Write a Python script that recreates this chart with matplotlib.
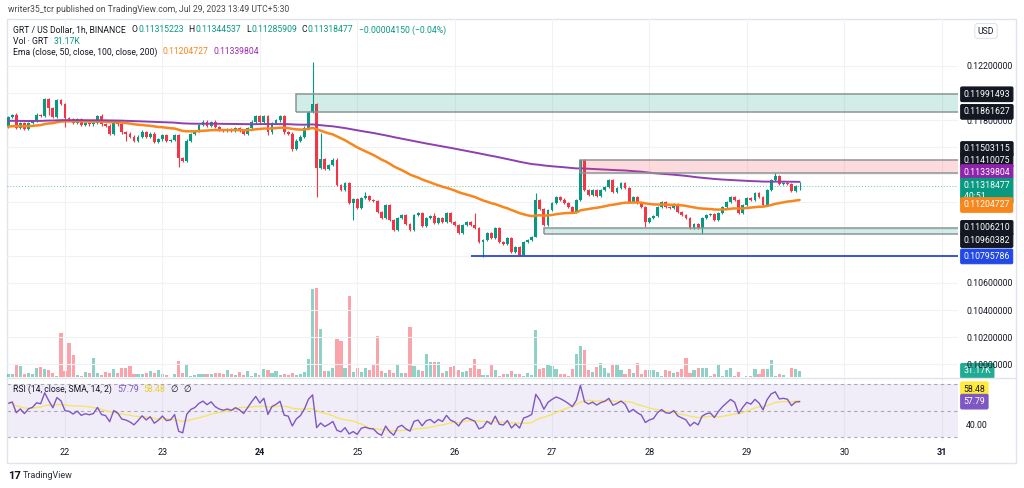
import numpy as np
import pandas as pd
import matplotlib
matplotlib.use("Agg")
import matplotlib.pyplot as plt
import matplotlib.dates as mdates
import matplotlib.transforms as mtransforms
from matplotlib.patches import Rectangle
from matplotlib.lines import Line2D
from matplotlib.ticker import FormatStrFormatter, FixedLocator

plt.rcParams['font.family'] = ['Roboto', 'DejaVu Sans']

# ------------------------------------------------------------------ data
start_time = "2023-07-21 10:00"
first_open = 0.11752
closes = [
    # Jul 21 10:00-23:00
    .11824, .11839, .11744, .11780, .11735, .11780, .11795, .11839, .11832, .11954, .11890, .11826, .11950, .11920,
    # Jul 22
    .11817, .11810, .11780, .11810, .11765, .11780, .11770, .11780, .11833, .11770, .11760, .11700,
    .11795, .11770, .11710, .11700, .11680, .11650, .11680, .11715, .11677, .11700, .11640, .11660,
    # Jul 23
    .11690, .11650, .11655, .11690, .11520, .11500, .11650, .11700, .11720, .11765, .11790, .11760,
    .11790, .11750, .11730, .11720, .11730, .11720, .11740, .11725, .11700, .11740, .11785, .11830,
    # Jul 24
    .11790, .11830, .11710, .11780, .11800, .11830, .11710, .11700, .11590, .11650, .11680, .11745,
    .11860, .11920, .11450, .11514, .11440, .11470, .11507, .11322, .11285, .11337, .11190, .11219,
    # Jul 25
    .11153, .11227, .11241, .11212, .11205, .11123, .11079, .11175, .11064, .10990, .11079, .11101,
    .11035, .10990, .11101, .11116, .11020, .11079, .11094, .11042, .11079, .11050, .11116, .11050,
    # Jul 26
    .11027, .10968, .11027, .11050, .11027, .11005, .10902, .10917, .10968, .10931, .11005, .10902,
    .10890, .10931, .10828, .10865, .10806, .10902, .10917, .10939, .11212, .11145, .11027, .11138,
    # Jul 27
    .11190, .11234, .11215, .11190, .11160, .11123, .11212, .11507, .11285, .11249, .11285, .11241,
    .11285, .11308, .11359, .11271, .11300, .11337, .11300, .11197, .11234, .11190, .11160, .11050,
    # Jul 28
    .11079, .11094, .11160, .11197, .11160, .11153, .11182, .11123, .11101, .11079, .11005, .11035,
    .11005, .11079, .11101, .11108, .11064, .11116, .11160, .11197, .11234, .11212, .11116, .11175,
    # Jul 29 00:00-13:00
    .11227, .11212, .11263, .11234, .11175, .11285, .11359, .11389, .11330, .11337, .11330, .11278,
    .11315223, .11318477,
]
# wick lengths beyond the body, in units of 1e-5
upper_wick = [
    10, 8, 12, 10, 8, 10, 10, 12, 10, 10, 10, 8, 10, 10,
    8, 10, 10, 8, 10, 8, 10, 10, 8, 10, 8, 10, 10, 8, 10, 8, 10, 12, 10, 10, 8, 10, 10, 8,
    10, 8, 10, 10, 10, 10, 10, 8, 10, 8, 10, 10, 8, 10, 10, 8, 10, 10, 8, 10, 10, 10, 15, 10,
    10, 12, 10, 8, 10, 10, 10, 8, 10, 8, 10, 10, 10, 310, 10, 190, 10, 10, 12, 15, 10, 10, 10, 10,
    10, 10, 30, 10, 10, 10, 10, 10, 10, 10, 10, 10, 10, 10, 10, 10, 10, 10, 10, 20, 10, 10, 10, 10,
    10, 10, 10, 10, 10, 89, 10, 10, 10, 10, 10, 10, 10, 10, 10, 10, 10, 10, 10, 10, 50, 10, 10, 10,
    10, 10, 10, 10, 10, 10, 10, 3, 10, 10, 10, 10, 10, 10, 10, 10, 10, 10, 10, 10, 10, 10, 10, 10,
    10, 10, 10, 10, 10, 10, 10, 10, 10, 10, 10, 10, 10, 10, 10, 10, 10, 10, 10, 10, 10, 10, 10, 10,
    10, 10, 10, 10, 10, 10, 10, 21, 10, 8, 10, 10, 10, 26,
]
lower_wick = [
    10, 10, 10, 10, 10, 10, 10, 10, 10, 10, 50, 10, 10, 10,
    67, 10, 10, 10, 10, 10, 10, 10, 10, 10, 10, 10, 10, 10, 10, 50, 10, 10, 10, 10, 10, 10, 10, 10,
    10, 10, 10, 10, 65, 10, 10, 10, 10, 10, 10, 10, 10, 10, 10, 10, 10, 10, 10, 10, 10, 10, 10, 10,
    10, 10, 20, 10, 10, 10, 10, 10, 15, 10, 10, 10, 10, 10, 215, 10, 10, 10, 10, 10, 10, 10, 10, 126,
    10, 10, 10, 10, 10, 10, 10, 10, 10, 10, 10, 10, 10, 10, 10, 10, 10, 10, 10, 10, 10, 10, 10, 10,
    10, 10, 10, 10, 10, 10, 10, 112, 10, 10, 10, 10, 10, 10, 10, 10, 10, 10, 10, 10, 0, 10, 10, 10,
    10, 10, 10, 10, 10, 10, 10, 10, 10, 10, 10, 10, 10, 10, 10, 10, 10, 10, 10, 10, 10, 10, 10, 37,
    10, 10, 10, 10, 10, 10, 10, 10, 10, 10, 10, 10, 10, 45, 10, 10, 10, 10, 10, 10, 10, 10, 10, 10,
    10, 10, 10, 10, 10, 10, 10, 10, 10, 10, 10, 10, 10, 29,
]
volumes_k = [
    17, 13, 63, 53, 13, 22, 13, 47, 50, 38, 37, 22, 5, 220,
    28, 170, 108, 12, 5, 23, 20, 95, 20, 10, 25, 20, 38, 20, 47, 45, 53, 17, 17, 17, 20, 28, 22, 37,
    17, 8, 2, 13, 78, 22, 63, 3, 8, 17, 17, 13, 17, 22, 22, 13, 33, 17, 10, 23, 8, 28, 7, 20,
    8, 38, 33, 20, 28, 8, 17, 8, 22, 8, 13, 25, 88, 442, 447, 238, 28, 28, 47, 188, 180, 47, 403, 25,
    47, 25, 47, 33, 67, 203, 30, 20, 33, 20, 63, 20, 20, 250, 53, 37, 30, 113, 73, 75, 73, 22, 30, 50,
    53, 37, 23, 30, 43, 92, 42, 10, 10, 62, 33, 5, 15, 17, 30, 13, 13, 5, 18, 8, 233, 38, 47, 63,
    53, 38, 17, 17, 3, 38, 113, 157, 137, 33, 25, 52, 72, 47, 20, 67, 67, 33, 13, 42, 20, 70, 13, 33,
    33, 37, 25, 3, 37, 30, 22, 25, 42, 95, 20, 33, 43, 43, 43, 3, 17, 58, 3, 33, 47, 3, 27, 2,
    3, 7, 42, 17, 38, 38, 87, 3, 17, 8, 2, 47, 42, 31.17,
]
ema50_start = 0.11750
ema200_start = 0.11795
rsi_seed_gain = 0.00022
rsi_seed_loss = 0.00022

zone_starts = ["2023-07-24 09:00", "2023-07-27 07:00", "2023-07-26 22:00"]
zone_tops = [0.11991493, 0.11503115, 0.11006210]
zone_bottoms = [0.11861627, 0.11410075, 0.10960382]
zone_kinds = ["green", "red", "green"]
support_start = "2023-07-26 04:00"
support_level = 0.10795786

first_day = "2023-07-22"
day_labels = ["22", "23", "24", "25", "26", "27", "28", "29", "30", "31"]
bold_days = ["24", "31"]
grid_prices = [0.100, 0.102, 0.104, 0.106, 0.108, 0.110, 0.112, 0.114, 0.116, 0.118, 0.120, 0.122]
labeled_prices = [0.100, 0.102, 0.104, 0.106, 0.118, 0.122]   # the others sit under price tags

header_text = "writer35_tcr published on TradingView.com, Jul 29, 2023 13:49 UTC+5:30"
ohlc_text = ["0.11315223", "0.11344537", "0.11285909", "0.11318477"]
change_text = "\u22120.00004150 (\u22120.04%)"
vol_text = "31.17K"
ema_vals = ["0.11204727", "0.11339804"]
rsi_vals = ["57.79", "58.48"]
countdown = "40:51"

# ------------------------------------------------------------------ colors
UP, DN = "#089981", "#f23645"
TXT = "#131722"
GRID = "#f0f2f6"
ORANGE, PURPLE = "#f7861d", "#8e3fb0"

# ------------------------------------------------------------------ derived series
times = pd.date_range(start_time, periods=len(closes), freq="h")
xs = mdates.date2num(times.to_pydatetime())
c = np.array(closes)
o = np.r_[first_open, c[:-1]]
hi = np.maximum(o, c) + np.array(upper_wick) * 1e-5
lo = np.minimum(o, c) - np.array(lower_wick) * 1e-5
up = c >= o
vol = np.array(volumes_k, dtype=float)

def ema(values, span, seed):
    a = 2.0 / (span + 1)
    out, e = [], seed
    for v in values:
        e = a * v + (1 - a) * e
        out.append(e)
    return np.array(out)

ema50 = ema(c, 50, ema50_start)
ema200 = ema(c, 200, ema200_start)

ag, al, prev = rsi_seed_gain, rsi_seed_loss, first_open
rsi = []
for v in c:
    d = v - prev
    ag = (ag * 13 + max(d, 0)) / 14
    al = (al * 13 + max(-d, 0)) / 14
    rsi.append(100 - 100 / (1 + ag / al))
    prev = v
rsi = np.array(rsi)
rsi_ma = pd.Series(rsi).rolling(14, min_periods=1).mean().values

# ------------------------------------------------------------------ figure
W, H = 1024, 488
fig = plt.figure(figsize=(W / 100, H / 100), dpi=100)
fig.patch.set_facecolor("white")

def box(l, t, r, b):
    return [l / W, 1 - b / H, (r - l) / W, (b - t) / H]

ax = fig.add_axes(box(7, 19, 958, 377))
axv = ax.twinx()
axr = fig.add_axes(box(7, 378, 958, 442))
ax.set_zorder(2)
axv.set_zorder(1)
ax.patch.set_visible(False)

d0 = mdates.date2num(pd.Timestamp(first_day).to_pydatetime())
xlim = (d0 - 0.5955, d0 + 9.168)
day_x = [d0 + k for k in range(len(day_labels))]

for a in (ax, axv, axr):
    a.set_xlim(*xlim)
    for s in a.spines.values():
        s.set_visible(False)

# price pane
ax.set_ylim(0.099065, 0.125466)
ax.yaxis.tick_right()
ax.yaxis.set_major_locator(FixedLocator(labeled_prices))
ax.yaxis.set_minor_locator(FixedLocator(grid_prices))
ax.yaxis.set_major_formatter(FormatStrFormatter("%.8f"))
ax.tick_params(axis="y", which="both", length=0, pad=5.8, labelsize=6.3, labelcolor=TXT)
ax.set_xticks(day_x)
ax.tick_params(axis="x", length=0, labelbottom=False)
ax.grid(True, which="both", color=GRID, lw=0.8)
ax.set_axisbelow(True)

# volume (overlay)
axv.set_ylim(0, 1790)
axv.set_yticks([])
axv.bar(xs, vol, width=0.78 / 24, color=np.where(up, UP, DN), alpha=0.45, linewidth=0)

# candles
cols = np.where(up, UP, DN)
ax.vlines(xs, lo, hi, colors=cols, lw=0.8, zorder=3)
ax.bar(xs, np.maximum(np.abs(c - o), 0.000012), bottom=np.minimum(o, c), width=0.7 / 24,
       color=cols, linewidth=0, zorder=4)

# EMAs
ax.plot(xs, ema50, color=ORANGE, lw=1.8, zorder=5, solid_capstyle="round")
ax.plot(xs, ema200, color=PURPLE, lw=1.4, zorder=5, solid_capstyle="round")

# current price dotted line
ax.axhline(c[-1], color=UP, lw=0.7, ls=(0, (1, 2)), alpha=0.6, zorder=2)

# zones
for zs, zt, zb, zk in zip(zone_starts, zone_tops, zone_bottoms, zone_kinds):
    x0 = mdates.date2num(pd.Timestamp(zs).to_pydatetime())
    fc = UP if zk == "green" else DN
    ax.add_patch(Rectangle((x0, zb), xlim[1] - x0 + 1, zt - zb, facecolor=fc, alpha=0.18,
                           edgecolor="none", zorder=6))
    ax.add_patch(Rectangle((x0, zb), xlim[1] - x0 + 1, zt - zb, fill=False,
                           edgecolor="#8b9694", lw=1.1, zorder=6))

# support line
sx = mdates.date2num(pd.Timestamp(support_start).to_pydatetime())
ax.hlines(support_level, sx, xlim[1], color="#2f45d8", lw=1.3, zorder=6)

# RSI pane
axr.set_ylim(26.45, 74.75)
axr.axhspan(30, 70, color="#7e57c2", alpha=0.1, lw=0)
for lvl in (70, 50, 30):
    axr.axhline(lvl, color="#9598a1", lw=0.8, ls=(0, (3, 3)), alpha=0.8)
axr.plot(xs, rsi_ma, color="#f6e36a", lw=1.0, zorder=3)
axr.plot(xs, rsi, color="#7e57c2", lw=1.0, zorder=4)
axr.yaxis.tick_right()
axr.set_yticks([40])
axr.yaxis.set_major_formatter(FormatStrFormatter("%.2f"))
axr.tick_params(axis="y", length=0, pad=5.8, labelsize=6.3, labelcolor=TXT)
axr.set_xticks(day_x)
axr.set_xticklabels(day_labels)
axr.tick_params(axis="x", length=0, pad=4.5, labelsize=6.5, labelcolor=TXT)
for t in axr.get_xticklabels():
    if t.get_text() in bold_days:
        t.set_fontweight("bold")
axr.grid(True, axis="x", color=GRID, lw=0.8)
axr.set_axisbelow(True)

# ------------------------------------------------------------------ tags on the right axis
def tag(axis, yval, txt, fc, tc="white", dy=0.0, size=6.3, ec=None, pad=0.32):
    tr = mtransforms.blended_transform_factory(axis.transAxes, axis.transData)
    axis.annotate(txt, xy=(1, yval), xycoords=tr, xytext=(5.5, dy), textcoords="offset pixels",
                  ha="left", va="center", fontsize=size, color=tc, annotation_clip=False,
                  linespacing=1.25, zorder=20,
                  bbox=dict(boxstyle=f"round,pad={pad},rounding_size=0.15", fc=fc, ec=ec or fc, lw=0.8))

tag(ax, zone_tops[0], f"{zone_tops[0]:.8f}", "#131722")
tag(ax, zone_bottoms[0], f"{zone_bottoms[0]:.8f}", "#131722")
tag(ax, zone_tops[1], f"{zone_tops[1]:.8f}", "#131722", dy=11.5)
tag(ax, zone_bottoms[1], f"{zone_bottoms[1]:.8f}", "#131722", dy=13)
tag(ax, ema200[-1], ema_vals[1], "#8e24aa", dy=(ema200[-1] - 0.11339804) / 0.001 * 13.56 + 9)
tag(ax, c[-1], ohlc_text[3] + "\n" + countdown + "        ", UP, dy=-5.5)
tag(ax, ema50[-1], ema_vals[0], ORANGE, dy=(ema50[-1] - 0.11204727) / 0.001 * 13.56 - 6)
tag(ax, zone_tops[2], f"{zone_tops[2]:.8f}", "#131722")
tag(ax, zone_bottoms[2], f"{zone_bottoms[2]:.8f}", "#131722", dy=-6)
tag(ax, support_level, f"{support_level:.8f}", "#2248e6", ec="#2248e6")
tag(axv, vol[-1], vol_text, "#22ab94")
tag(axr, rsi_ma[-1], rsi_vals[1], "#ffeb3b", tc=TXT, dy=11.5)
tag(axr, rsi[-1], rsi_vals[0], "#7e57c2")

# ------------------------------------------------------------------ frame & texts
fig.add_artist(Rectangle((7 / W, 1 - 463 / H), (1016 - 7) / W, (463 - 19) / H,
                         transform=fig.transFigure, fill=False, ec="#e0e3eb", lw=1))
fig.add_artist(Line2D([7 / W, 1016 / W], [1 - 377.5 / H] * 2, transform=fig.transFigure,
                      color="#e0e3eb", lw=1))

renderer = fig.canvas.get_renderer()

def seq_text(x0, y0, parts, size=6.2):
    x = x0
    for s, col, gap in parts:
        t = fig.text(x / W, 1 - y0 / H, s, color=col, fontsize=size, ha="left", va="center")
        x += t.get_window_extent(renderer=renderer).width + gap

fig.text(8 / W, 1 - 9 / H, header_text, fontsize=6.2, color="#4a4a4a", ha="left", va="center")
seq_text(13, 30, [("GRT / US Dollar, 1h, BINANCE", TXT, 6),
                  ("O", TXT, 0.5), (ohlc_text[0], UP, 5),
                  ("H", TXT, 0.5), (ohlc_text[1], UP, 5),
                  ("L", TXT, 0.5), (ohlc_text[2], UP, 5),
                  ("C", TXT, 0.5), (ohlc_text[3], UP, 5),
                  (change_text, UP, 0)])
seq_text(13, 41, [("Vol \u00b7 GRT", TXT, 5), (vol_text, UP, 0)])
seq_text(13, 52, [("Ema (close, 50, close, 100, close, 200)", TXT, 5),
                  (ema_vals[0], ORANGE, 5), (ema_vals[1], "#9c27b0", 0)])
seq_text(13, 389, [("RSI (14, close, SMA, 14, 2)", TXT, 5),
                   (rsi_vals[0], "#7e57c2", 5), (rsi_vals[1], "#e8d22a", 5),
                   ("\u2205", TXT, 5), ("\u2205", TXT, 0)])

fig.text(986 / W, 1 - 31 / H, "USD", fontsize=6.2, color=TXT, ha="center", va="center",
         bbox=dict(boxstyle="round,pad=0.35", fc="white", ec="#e0e3eb", lw=0.8))

fig.text(8 / W, 1 - 476 / H, "17", fontsize=8, fontweight="bold", color=TXT, ha="left", va="center")
fig.text(23 / W, 1 - 476 / H, "TradingView", fontsize=6.5, color="#2a2e39", ha="left", va="center")

fig.savefig("out.png", dpi=100)
